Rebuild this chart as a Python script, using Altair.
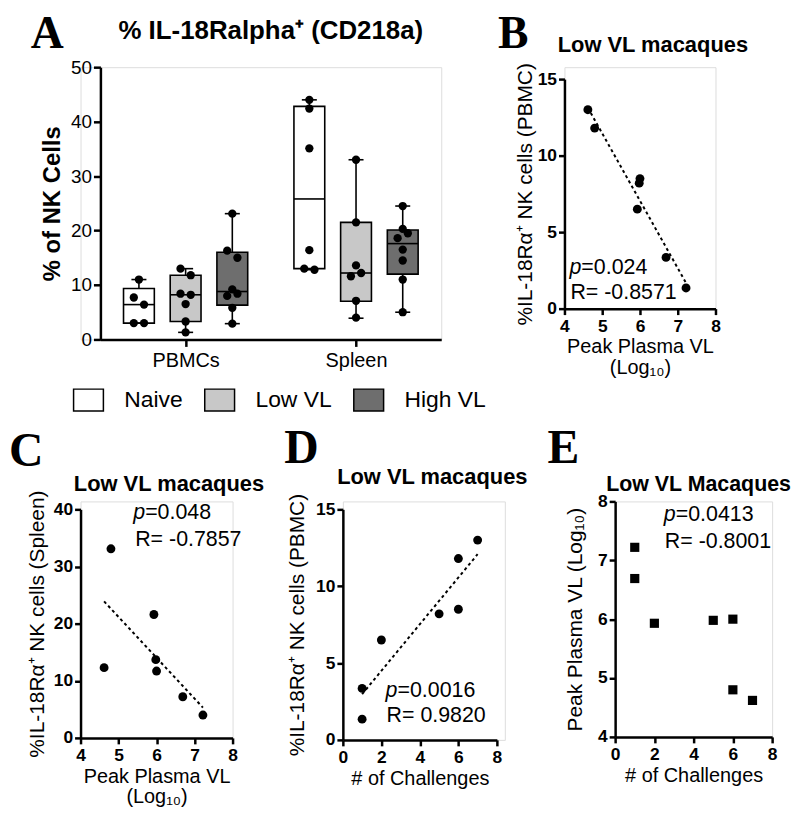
import altair as alt
import pandas as pd

FONT = "Liberation Sans"
SERIF = "Liberation Serif"

# ---------------- Panel A data ----------------
tissues = ["PBMCs", "Spleen"]
groups = ["Naive", "Low VL", "High VL"]
group_fill = ["#ffffff", "#c8c8c8", "#6e6e6e"]

pbmc_naive = [11.0, 7.7, 6.4, 3.0, 3.0]
pbmc_low = [13.0, 11.8, 8.4, 8.2, 6.5, 3.3, 1.3]
pbmc_high = [23.1, 16.3, 15.0, 9.2, 8.4, 8.0, 5.8, 2.9]
spleen_naive = [44.0, 42.4, 35.1, 16.4, 13.0, 12.8]
spleen_low = [33.0, 21.5, 13.6, 12.2, 11.6, 7.1, 4.0]
spleen_high = [24.5, 20.3, 19.5, 18.6, 16.5, 14.5, 11.0, 5.0]

# box statistics (PBMC naive/low/high, Spleen naive/low/high)
box_min = [3.0, 1.3, 2.9, 12.8, 3.9, 5.0]
box_q1 = [3.0, 3.3, 6.3, 13.0, 7.0, 12.0]
box_median = [6.4, 8.2, 8.8, 25.8, 12.2, 17.6]
box_q3 = [9.35, 11.8, 16.0, 42.8, 21.5, 20.1]
box_max = [11.0, 13.0, 23.1, 44.0, 33.0, 24.5]

# ---------------- Panels B-E data (Low VL macaques) ----------------
peak_vl = [4.62, 4.80, 6.00, 5.98, 5.93, 6.69, 7.22]
pbmc_nk = [13.0, 11.8, 8.5, 8.2, 6.5, 3.35, 1.35]
challenges = [7, 6, 6, 5, 2, 1, 1]
spleen_vl = [4.62, 4.80, 5.93, 5.98, 6.00, 6.69, 7.22]
spleen_nk = [12.3, 33.1, 21.6, 13.7, 11.7, 7.2, 4.0]

# layout constants for panel A (fractions of a category slot)
GROUP_STEP = 0.274
BOX_HALF = 0.0904
CAP_HALF = 0.044
JITTER = 0.03


def spread(vals, gap=1.6):
    """deterministic beeswarm-like side assignment for nearly equal values"""
    order = sorted(range(len(vals)), key=lambda i: -vals[i])
    clusters = []
    for i in order:
        if clusters and vals[clusters[-1][-1]] - vals[i] < gap:
            clusters[-1].append(i)
        else:
            clusters.append([i])
    out = [0] * len(vals)
    for c in clusters:
        if len(c) % 2 == 0:
            pat = [-1, 1] * (len(c) // 2)
        else:
            pat = [0] + [1, -1] * (len(c) // 2)
        for i, s in zip(c, pat):
            out[i] = s
    return out


def txt(text, x, y, size, weight="normal", style="normal", font=FONT,
        align="left", opacity=1.0):
    return alt.Chart(alt.Data(values=[{"t": text}])).mark_text(
        align=align, baseline="alphabetic", font=font, fontSize=size,
        fontWeight=weight, fontStyle=style, color="black", opacity=opacity,
    ).encode(x=alt.value(x), y=alt.value(y), text="t:N")


AX_COMMON = dict(grid=False, domainColor="black", domainWidth=2.5,
                 tickColor="black", tickWidth=2.5, labelColor="black",
                 titleColor="black", labelFont=FONT, titleFont=FONT)

# ---------------- Panel A ----------------
box_rows = []
for k in range(6):
    ti, gi = divmod(k, 3)
    box_rows.append(dict(tissue=tissues[ti], group=groups[gi], ti=ti, gi=gi,
                         lo=box_min[k], q1=box_q1[k], med=box_median[k],
                         q3=box_q3[k], hi=box_max[k]))
box_df = pd.DataFrame(box_rows)

series = [pbmc_naive, pbmc_low, pbmc_high, spleen_naive, spleen_low, spleen_high]
pt_rows = []
for k, vals in enumerate(series):
    ti, gi = divmod(k, 3)
    for v, s in zip(vals, spread(vals)):
        pt_rows.append(dict(tissue=tissues[ti], group=groups[gi], ti=ti, gi=gi,
                            value=v, side=s))
pts_df = pd.DataFrame(pt_rows)

XS_A = alt.Scale(domain=[-0.5, 1.5], nice=False, zero=False, range=[20, 363])
AX_XA = alt.Axis(title=None, values=[0, 1],
                 labelExpr=f"datum.value == 0 ? '{tissues[0]}' : '{tissues[1]}'",
                 labelFontSize=20, tickSize=7, labelPadding=4, labelFlush=False,
                 **AX_COMMON)
YS_A = alt.Scale(domain=[0, 50], nice=False)
AX_YA = alt.Axis(title="% of NK Cells", values=[0, 10, 20, 30, 40, 50],
                 labelFontSize=19, labelPadding=2, tickSize=7, titleFontSize=24,
                 titleFontWeight="bold", titlePadding=6, offset=-20, **AX_COMMON)


def XA(f):
    return alt.X(f"{f}:Q", scale=XS_A, axis=AX_XA)


def YA(f):
    return alt.Y(f"{f}:Q", scale=YS_A, axis=AX_YA)


box_base = alt.Chart(box_df).transform_calculate(
    xc=f"datum.ti + (datum.gi - 1) * {GROUP_STEP}"
).transform_calculate(
    xl=f"datum.xc - {BOX_HALF}", xr=f"datum.xc + {BOX_HALF}",
    cl=f"datum.xc - {CAP_HALF}", cr=f"datum.xc + {CAP_HALF}",
)

legA = alt.Legend(title=None, orient="none", legendX=-4, legendY=323,
                  direction="horizontal",
                  symbolType="M-1.364,-1L1.364,-1L1.364,1L-1.364,1Z",
                  symbolSize=484, symbolStrokeColor="black",
                  symbolStrokeWidth=1.5, symbolOpacity=1,
                  labelFontSize=23, labelFont=FONT, labelColor="black",
                  labelOffset=24, columnPadding=18, padding=0)

whisk = box_base.mark_rule(color="black", strokeWidth=1.6).encode(
    x=XA("xc"), y=YA("lo"), y2="hi:Q")
boxes = box_base.mark_rect(stroke="black", strokeWidth=1.6).encode(
    x=XA("xl"), x2="xr:Q", y=YA("q1"), y2="q3:Q",
    fill=alt.Fill("group:N", scale=alt.Scale(domain=groups, range=group_fill),
                  legend=legA))
medians = box_base.mark_rule(color="black", strokeWidth=1.6).encode(
    x=XA("xl"), x2="xr:Q", y=YA("med"))
cap_hi = box_base.mark_rule(color="black", strokeWidth=1.6).encode(
    x=XA("cl"), x2="cr:Q", y=YA("hi"))
cap_lo = box_base.mark_rule(color="black", strokeWidth=1.6).encode(
    x=XA("cl"), x2="cr:Q", y=YA("lo"))
dots = alt.Chart(pts_df).transform_calculate(
    xp=f"datum.ti + (datum.gi - 1) * {GROUP_STEP} + datum.side * {JITTER}"
).mark_circle(size=70, color="black", opacity=1).encode(x=XA("xp"), y=YA("value"))

chartA = alt.layer(
    whisk, boxes, medians, cap_hi, cap_lo, dots,
    txt("A", -50, -19, 46, weight="bold", font=SERIF),
    txt("% IL-18Ralpha\u207a (CD218a)", 191.5, -28, 26, weight="bold", align="center"),
).properties(width=363, height=274)


# ---------------- scatter panels ----------------
def scatter(df, xf, yf, xdom, xticks, ydom, yticks, xtitle, ytitle, width, height,
            ytitle_pad, xrange=None, yrange=None, shape="circle",
            regression=True, extras=()):
    xs_kw = dict(domain=xdom, nice=False, zero=False)
    if xrange:
        xs_kw["range"] = xrange
    ys_kw = dict(domain=ydom, nice=False, zero=False)
    if yrange:
        ys_kw["range"] = yrange
    X = alt.X(f"{xf}:Q", scale=alt.Scale(**xs_kw),
              axis=alt.Axis(title=xtitle, values=xticks, tickSize=6,
                            labelFontSize=17.5, labelFontWeight="bold",
                            labelPadding=3, labelFlush=False, titleFontSize=20,
                            titleFontWeight="normal", titlePadding=2,
                            titleLineHeight=21, **AX_COMMON))
    Y = alt.Y(f"{yf}:Q", scale=alt.Scale(**ys_kw),
              axis=alt.Axis(title=ytitle, values=yticks, tickSize=6,
                            labelFontSize=17.5, labelFontWeight="bold",
                            labelPadding=2, titleFontSize=21,
                            titleFontWeight="normal", titlePadding=ytitle_pad,
                            **AX_COMMON))
    base = alt.Chart(df)
    layers = []
    if regression:
        layers.append(base.transform_regression(xf, yf).mark_line(
            color="black", strokeWidth=2, strokeDash=[3, 3]).encode(x=X, y=Y))
    if shape == "circle":
        layers.append(base.mark_circle(size=80, color="black", opacity=1).encode(x=X, y=Y))
    else:
        layers.append(base.mark_square(size=85, color="black", opacity=1).encode(x=X, y=Y))
    layers.extend(extras)
    return alt.layer(*layers).properties(width=width, height=height)


TITLE = "Low VL macaques"
VL_TITLE = ["Peak Plasma VL", "(Log\u2081\u2080)"]
NK_PBMC = "%IL-18R\u03b1\u207a NK cells (PBMC)"
NK_SPLEEN = "%IL-18R\u03b1\u207a NK cells (Spleen)"

dfB = pd.DataFrame({"vl": peak_vl, "nk": pbmc_nk})
chartB = scatter(
    dfB, "vl", "nk", [4, 8], [4, 5, 6, 7, 8], [0, 15], [0, 5, 10, 15],
    VL_TITLE, NK_PBMC, 152, 243, 2, yrange=[243, 12],
    extras=[
        txt("B", -67, -19, 46, weight="bold", font=SERIF),
        txt(TITLE, 89, -15, 22, weight="bold", align="center"),
        txt("p", 5, 208, 21.5, style="italic"),
        txt("=0.024", 17, 208, 21.5),
        txt("R= -0.8571", 6, 233, 21.5),
    ])

dfC = pd.DataFrame({"vl": spleen_vl, "nk": spleen_nk})
chartC = scatter(
    dfC, "vl", "nk", [4, 8], [4, 5, 6, 7, 8], [0, 40], [0, 10, 20, 30, 40],
    VL_TITLE, NK_SPLEEN, 153, 238, 6, yrange=[238, 8],
    extras=[
        txt("C", -72, -36, 48, weight="bold", font=SERIF),
        txt(TITLE, 89, -10, 22, weight="bold", align="center"),
        txt("p", 53, 18, 21.5, style="italic"),
        txt("=0.048", 65, 18, 21.5),
        txt("R= -0.7857", 55, 45, 21.5),
    ])

dfD = pd.DataFrame({"ch": challenges, "nk": pbmc_nk})
chartD = scatter(
    dfD, "ch", "nk", [0, 8], [0, 2, 4, 6, 8], [0, 15], [0, 5, 10, 15],
    "# of Challenges", NK_PBMC, 163, 240, 8, xrange=[0, 155], yrange=[240, 8],
    extras=[
        txt("D", -59, -39, 48, weight="bold", font=SERIF),
        txt(TITLE, 90, -18, 22, weight="bold", align="center"),
        txt("p", 43, 197, 21.5, style="italic"),
        txt("=0.0016", 55, 197, 21.5),
        txt("R= 0.9820", 44, 222, 21.5),
    ])

dfE = pd.DataFrame({"ch": challenges, "vl": peak_vl})
chartE = scatter(
    dfE, "ch", "vl", [0, 8], [0, 2, 4, 6, 8], [4, 8], [4, 5, 6, 7, 8],
    "# of Challenges", "Peak Plasma VL (Log\u2081\u2080)", 158, 237, 12,
    shape="square", regression=False,
    extras=[
        txt("E", -68, -39, 48, weight="bold", font=SERIF),
        txt("Low VL Macaques", 84, -10, 21.5, weight="bold", align="center"),
        txt("p", 49, 20, 21.5, style="italic"),
        txt("=0.0413", 61, 20, 21.5),
        txt("R= -0.8001", 50, 47, 21.5),
    ])

row1 = alt.hconcat(chartA, chartB, spacing=124, bounds="flush")
row2 = alt.hconcat(chartC, chartD, chartE, spacing=111, bounds="flush")

chart = alt.vconcat(
    row1, row2, spacing=10, bounds="full",
    padding={"left": 0, "top": 0, "right": 0, "bottom": 0},
).resolve_scale(fill="independent").resolve_legend(fill="independent").configure_view(
    stroke=None).configure(background="white")

chart.save("out.html", embed_options={"renderer": "svg", "actions": False})
